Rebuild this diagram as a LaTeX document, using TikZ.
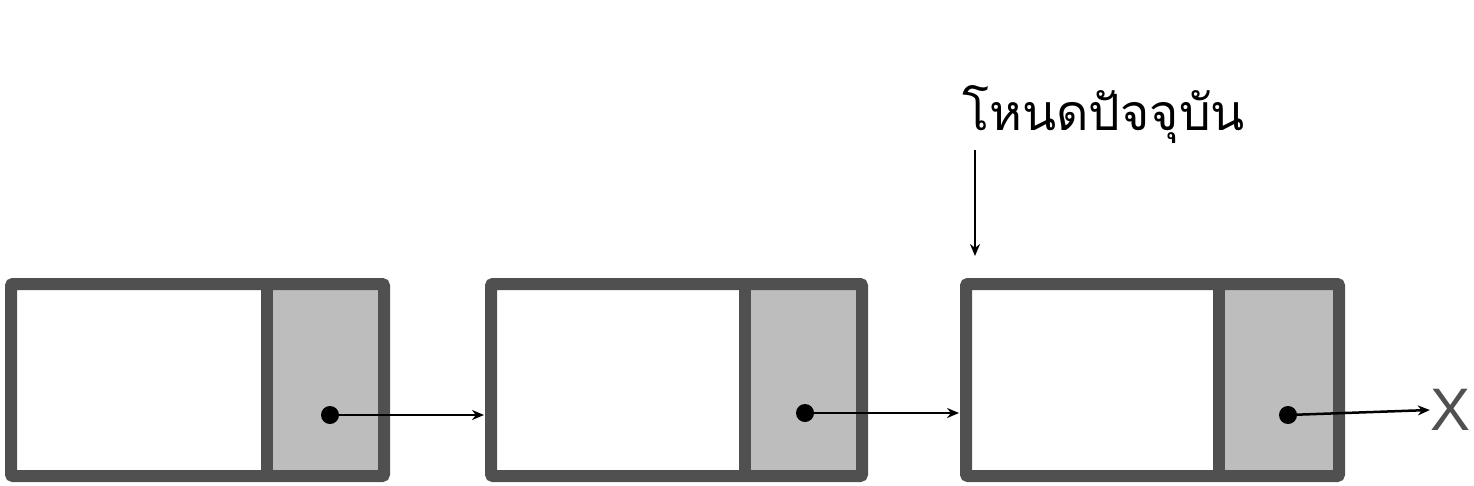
\documentclass[tikz,border=0pt]{standalone}
\usepackage{fontspec}
\newfontfamily\thaifont[Script=Thai]{Loma}
\newfontfamily\lsans{Liberation Sans}
\usetikzlibrary{arrows.meta}
\definecolor{bord}{HTML}{505050}
\definecolor{cell}{HTML}{BDBDBD}
\tikzset{
  frame/.style={draw=bord,line width=12pt,rounded corners=2pt},
  ptr/.style={line width=2.5pt,-{Stealth[length=12pt,width=10pt]}},
  dot/.style={circle,fill=black,inner sep=0pt,minimum size=18pt}
}
\begin{document}
\begin{tikzpicture}[x=1pt,y=-1pt]
\useasboundingbox (0,0) rectangle (1474,485);
\foreach \a/\d/\b/\n in {11/267/384/1,491/745/862/2,966/1219/1339/3}{
  \fill[cell] (\d,284) rectangle (\b,476);
  \draw[frame] (\a,284) rectangle (\b,476);
  \draw[draw=bord,line width=12pt] (\d,284) -- (\d,476);
}
\node[dot] (d1) at (330,415) {};
\node[dot] (d2) at (805,413) {};
\node[dot] (d3) at (1288,415) {};
\coordinate (b2) at (484,415);
\coordinate (b3) at (959,413);
\node[text=bord,font=\lsans\fontsize{60}{60}\selectfont,inner sep=0pt] (x) at (1450,410) {X};
\draw[ptr] (d1.center) -- (b2);
\draw[ptr] (d2.center) -- (b3);
\draw[ptr] (d3.center) -- (x.west);
\node[font=\thaifont\fontsize{50}{50}\selectfont,anchor=west,inner sep=0pt] (lab) at (962,115) {โหนดปัจจุบัน};
\coordinate (tgt) at (975,256);
\draw[ptr] (975,150) -- (tgt);
\end{tikzpicture}
\end{document}
